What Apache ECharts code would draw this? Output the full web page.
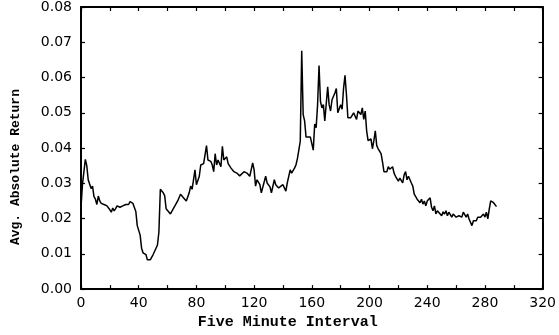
<!DOCTYPE html>
<html>
<head>
<meta charset="utf-8">
<script src="https://cdn.jsdelivr.net/npm/echarts@6/dist/echarts.min.js"></script>
<style>
  html, body { margin: 0; padding: 0; background: #fff; }
  #chart { width: 559px; height: 335px; }
</style>
</head>
<body>
<div id="chart"></div>
<script>
// five minute interval index
const intervals = [
  0, 1, 3, 4, 5, 7, 8, 9, 10, 11, 12, 13, 14, 15, 16, 17, 18, 19, 20, 21,
  22, 23, 24, 25, 26, 27, 28, 29, 30, 31, 32, 33, 34, 35, 36, 37, 38, 39, 41, 42,
  43, 45, 46, 48, 50, 52, 53, 54, 55, 57, 58, 59,
  60, 62, 64, 65, 67, 69, 71, 73, 75, 76, 77, 78, 79, 80, 82, 83, 85, 87, 88, 90,
  91, 92, 93, 94, 95, 97, 98, 99, 101, 102, 104, 106, 108, 110, 113, 115, 117, 119, 120, 121,
  122, 124, 125, 128, 129, 131, 132, 133, 134, 135, 137, 138, 140, 142, 143, 145, 146, 148, 149, 150,
  151, 152, 153, 154, 155, 156, 157, 159, 161, 162, 163, 164, 165, 166, 167, 168, 169, 171, 172, 173,
  174, 176, 177, 178, 179, 180, 181, 182, 183, 184, 185, 187, 189, 191, 192, 194, 195, 196, 197, 198,
  199, 201, 202, 203, 204, 205, 206, 208, 209, 210, 211, 212, 213, 214, 216, 217, 218, 219, 220, 221,
  223, 224, 225, 226, 227, 228, 229, 230, 231, 233, 234, 235, 236, 237, 238, 239, 240, 242, 243, 244,
  245, 246, 247, 248, 250, 251, 252, 253, 254, 255, 257, 258, 259, 260, 261, 262, 263, 264, 265, 266,
  267, 268, 269, 271, 272, 273, 274, 275, 276, 277, 279, 280, 281, 282, 283, 284, 285, 286, 287, 288
];

// average absolute return
const avgReturn = [
  0.0231, 0.0297, 0.0368, 0.0350, 0.0310, 0.0285, 0.0292, 0.0262, 0.0255, 0.0240, 0.0264, 0.0250, 0.0243, 0.0238, 0.0240, 0.0245, 0.0236, 0.0232, 0.0225, 0.0218,
  0.0230, 0.0222, 0.0228, 0.0236, 0.0240, 0.0232, 0.0230, 0.0236, 0.0232, 0.0240, 0.0245, 0.0240, 0.0248, 0.0250, 0.0243, 0.0238, 0.0220, 0.0180, 0.0153, 0.0116,
  0.0103, 0.0098, 0.0083, 0.0083, 0.0098, 0.0116, 0.0125, 0.0162, 0.0283, 0.0273, 0.0265, 0.0228,
  0.0225, 0.0213, 0.0228, 0.0235, 0.0250, 0.0269, 0.0259, 0.0250, 0.0273, 0.0292, 0.0283, 0.0310, 0.0338, 0.0296, 0.0320, 0.0352, 0.0356, 0.0407, 0.0366, 0.0362,
  0.0352, 0.0333, 0.0384, 0.0352, 0.0366, 0.0347, 0.0405, 0.0366, 0.0375, 0.0356, 0.0343, 0.0333, 0.0329, 0.0321, 0.0333, 0.0329, 0.0320, 0.0358, 0.0338, 0.0292,
  0.0310, 0.0296, 0.0273, 0.0320, 0.0301, 0.0290, 0.0273, 0.0269, 0.0310, 0.0296, 0.0287, 0.0292, 0.0296, 0.0278, 0.0301, 0.0338, 0.0329, 0.0343, 0.0352, 0.0370,
  0.0394, 0.0420, 0.0676, 0.0495, 0.0477, 0.0431, 0.0435, 0.0431, 0.0394, 0.0468, 0.0458, 0.0523, 0.0634, 0.0532, 0.0514, 0.0523, 0.0477, 0.0574, 0.0523, 0.0505,
  0.0537, 0.0556, 0.0569, 0.0500, 0.0495, 0.0523, 0.0510, 0.0569, 0.0606, 0.0551, 0.0486, 0.0486, 0.0500, 0.0481, 0.0505, 0.0495, 0.0514, 0.0481, 0.0505, 0.0449,
  0.0421, 0.0426, 0.0398, 0.0421, 0.0449, 0.0407, 0.0398, 0.0384, 0.0361, 0.0333, 0.0329, 0.0333, 0.0347, 0.0340, 0.0347, 0.0329, 0.0320, 0.0320, 0.0306, 0.0315,
  0.0301, 0.0324, 0.0333, 0.0310, 0.0320, 0.0315, 0.0301, 0.0292, 0.0269, 0.0255, 0.0250, 0.0245, 0.0255, 0.0241, 0.0250, 0.0236, 0.0250, 0.0259, 0.0232, 0.0222,
  0.0236, 0.0213, 0.0222, 0.0218, 0.0208, 0.0219, 0.0213, 0.0222, 0.0208, 0.0218, 0.0204, 0.0213, 0.0210, 0.0204, 0.0199, 0.0208, 0.0213, 0.0204, 0.0218, 0.0222,
  0.0204, 0.0213, 0.0199, 0.0180, 0.0194, 0.0199, 0.0194, 0.0204, 0.0208, 0.0204, 0.0213, 0.0204, 0.0218, 0.0199, 0.0227, 0.0250, 0.0255, 0.0245, 0.0241, 0.0234
];

const xTicks = [0, 320, 40];      // min, max, step
const yTicks = [0, 0.08, 0.01];

const chart = echarts.init(document.getElementById('chart'));

const labelFont = { color: '#000', fontFamily: 'DejaVu Sans', fontSize: 14 };
const titleFont = { color: '#000', fontFamily: 'Liberation Mono', fontWeight: 'bold' };
const axisLine = { show: true, onZero: false, lineStyle: { color: '#000', width: 2 } };

function xAxisDef(pos, labels) {
  return {
    type: 'value', position: pos,
    min: xTicks[0], max: xTicks[1], interval: xTicks[2],
    axisLine: axisLine,
    axisTick: { show: true, inside: true, length: 4, lineStyle: { color: '#000', width: 1.2 } },
    minorTick: { show: true, splitNumber: 2, length: 4, lineStyle: { color: '#000', width: 1.2 } },
    splitLine: { show: false },
    axisLabel: labels ? Object.assign({ margin: 7 }, labelFont) : { show: false }
  };
}

function yAxisDef(pos, labels) {
  return {
    type: 'value', position: pos,
    min: yTicks[0], max: yTicks[1], interval: yTicks[2],
    axisLine: axisLine,
    axisTick: { show: true, inside: true, length: 4, lineStyle: { color: '#000', width: 1.2 } },
    splitLine: { show: false },
    axisLabel: labels ? Object.assign({ margin: 9, formatter: v => v.toFixed(2) }, labelFont) : { show: false }
  };
}

const xMain = xAxisDef('bottom', true);
xMain.name = 'Five Minute Interval';
xMain.nameLocation = 'middle';
xMain.nameGap = 23;
xMain.nameTextStyle = Object.assign({ fontSize: 15, padding: [0, 48, 0, 0] }, titleFont);

const yMain = yAxisDef('left', true);
yMain.name = 'Avg. Absolute Return';
yMain.nameLocation = 'middle';
yMain.nameGap = 59;
yMain.nameTextStyle = Object.assign({ fontSize: 13, padding: [0, 38, 0, 0] }, titleFont);

chart.setOption({
  animation: false,
  backgroundColor: '#fff',
  grid: { left: 81, right: 12, top: 7, bottom: 40 },
  xAxis: [xMain, xAxisDef('top', false)],
  yAxis: [yMain, yAxisDef('right', false)],
  series: [{
    type: 'line',
    data: intervals.map((x, i) => [x, avgReturn[i]]),
    showSymbol: false,
    symbol: 'none',
    lineStyle: { color: '#000', width: 1.5 }
  }]
});
</script>
</body>
</html>
